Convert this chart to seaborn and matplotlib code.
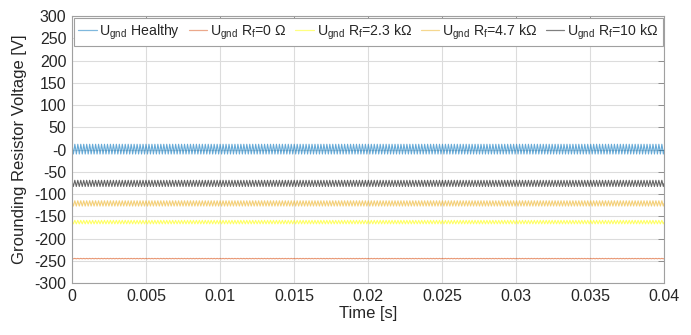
import numpy as np
import pandas as pd
import matplotlib
matplotlib.use("Agg")
import matplotlib.pyplot as plt
import seaborn as sns
from matplotlib.lines import Line2D

# ---- data (one switching cycle, repeated) ----
t_end = 0.04
n_cycles = 200
labels = [r"U$_{\mathregular{gnd}}$ Healthy",
          r"U$_{\mathregular{gnd}}$ R$_{\mathregular{f}}$=0 Ω",
          r"U$_{\mathregular{gnd}}$ R$_{\mathregular{f}}$=2.3 kΩ",
          r"U$_{\mathregular{gnd}}$ R$_{\mathregular{f}}$=4.7 kΩ",
          r"U$_{\mathregular{gnd}}$ R$_{\mathregular{f}}$=10 kΩ"]
cycle_healthy = [12, 3, -10, -1]
cycle_r0 = [-244.5, -245, -245.5, -245]
cycle_r23k = [-159, -163, -167, -163]
cycle_r47k = [-115, -121, -127, -121]
cycle_r10k = [-69, -76, -83, -76]
colors = ["#0072BD", "#D95319", "#FFFF00", "#EDB120", "#000000"]

xticks = [0, 0.005, 0.01, 0.015, 0.02, 0.025, 0.03, 0.035, 0.04]
xticklabels = ["0", "0.005", "0.01", "0.015", "0.02", "0.025", "0.03", "0.035", "0.04"]
yticks = [300, 250, 200, 150, 100, 50, 0, -50, -100, -150, -200, -250, -300]
yticklabels = ["300", "250", "200", "150", "100", "50", "-0", "-50", "-100", "-150",
               "-200", "-250", "-300"]

cycles = [cycle_healthy, cycle_r0, cycle_r23k, cycle_r47k, cycle_r10k]
frames = []
for lab, cyc in zip(labels, cycles):
    v = np.tile(cyc, n_cycles)
    t = np.linspace(0, t_end, len(v))
    frames.append(pd.DataFrame({"t": t, "v": v, "series": lab}))
df = pd.concat(frames, ignore_index=True)

# ---- style ----
sns.set_style("whitegrid")
plt.rcParams["font.family"] = ["Liberation Sans", "DejaVu Sans"]
plt.rcParams["mathtext.fontset"] = "custom"
plt.rcParams["mathtext.rm"] = "Liberation Sans"
plt.rcParams["axes.unicode_minus"] = False

fig = plt.figure(figsize=(6.91, 3.35), dpi=100)
ax = fig.add_axes([0.104, 0.155, 0.857, 0.797])

sns.lineplot(data=df, x="t", y="v", hue="series", palette=dict(zip(labels, colors)),
             estimator=None, sort=False, linewidth=0.8, alpha=0.6, ax=ax, legend=False)

ax.set_xlim(0, 0.04)
ax.set_ylim(-300, 300)
ax.set_xticks(xticks)
ax.set_xticklabels(xticklabels)
ax.set_yticks(yticks)
ax.set_yticklabels(yticklabels)
ax.tick_params(axis="both", labelsize=11.5, labelcolor="#262626", direction="in",
               length=4, width=0.6, top=True, right=True, pad=4, color="#808080")
ax.grid(True, color="#dcdcdc", linewidth=0.8)
for s in ax.spines.values():
    s.set_visible(True)
    s.set_color("#a0a0a0")
    s.set_linewidth(0.8)
ax.set_xlabel("Time [s]", fontsize=12, color="#262626", labelpad=2)
ax.set_ylabel("Grounding Resistor Voltage [V]", fontsize=12, color="#262626", labelpad=5)

handles = [Line2D([], [], color=c, lw=0.9, alpha=0.5) for c in colors]
leg = ax.legend(handles, labels, ncol=5, loc="upper left", bbox_to_anchor=(0.0, 1.0),
                fontsize=10.2, frameon=True, fancybox=False, framealpha=1,
                edgecolor="#a0a0a0", handlelength=1.3, handletextpad=0.2,
                columnspacing=0.6, borderpad=0.3, borderaxespad=0.15)
leg.get_frame().set_linewidth(0.8)

fig.savefig("out.png", dpi=100)
